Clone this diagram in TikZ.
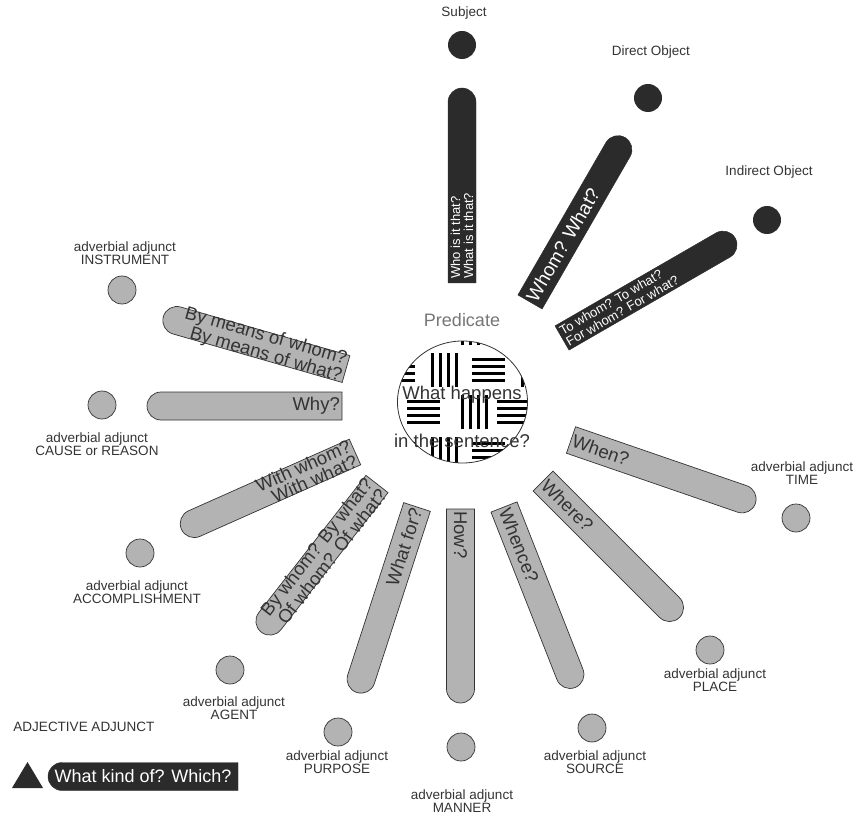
\documentclass[tikz,border=0pt]{standalone}
\usepackage{fontspec}
\setmainfont{Liberation Sans}
\definecolor{darkbar}{HTML}{2B2B2B}
\definecolor{greybar}{HTML}{B3B3B3}
\definecolor{inktext}{HTML}{333333}
\definecolor{predgrey}{HTML}{767676}

% question bar: square end #1, angle #2, length #3, style #4
\newcommand{\askbar}[4]{%
  \begin{scope}[shift={#1}, rotate=#2]
    \filldraw[#4] (0,-14) -- (#3-14,-14) arc(-90:90:14) -- (0,14) -- cycle;
  \end{scope}}

\tikzset{
  darkfill/.style={fill=darkbar, draw=darkbar, line width=0.4pt},
  greyfill/.style={fill=greybar, draw=inktext, line width=0.7pt},
  darkdot/.style={circle, fill=darkbar, inner sep=0pt, minimum size=28pt},
  greydot/.style={circle, fill=greybar, draw=inktext, line width=0.7pt, inner sep=0pt, minimum size=28pt},
  lbl/.style={font=\fontsize{13.5}{13}\selectfont, text=inktext, align=center, inner sep=0pt},
  bigq/.style={font=\fontsize{18.5}{16.5}\selectfont, text=inktext, inner sep=2pt},
  bigw/.style={font=\fontsize{19}{16.5}\selectfont, text=white, inner sep=2pt},
  smallw/.style={font=\fontsize{13}{13}\selectfont, text=white, inner sep=2pt, align=left},
  weave/.style={line width=3pt, black},
}

\begin{document}
\begin{tikzpicture}[x=1pt,y=-1pt]
	\useasboundingbox (0,0) rectangle (859,818);

	% predicate
	\coordinate (pc) at (462.5,402);
	\node[font=\fontsize{18}{18}\selectfont, text=predgrey] (predlbl) at (462,320) {Predicate};
	\begin{scope}
		\clip (pc) ellipse (65 and 61);
		\fill[white] (pc) ellipse (65 and 61);
		\foreach \yc/\vx/\hx in {328/460/497,370/430/472,412/460/497,454/430/472}
			\foreach \k in {-1,0,1}
				\foreach \d in {0,1,2,3}{
					\draw[weave] ({\vx+90*\k+2+8*\d},\yc-17) -- ++(0,34);
					\draw[weave] ({\hx+90*\k},\yc-10.5+7*\d) -- ++(33,0);
				}
	\end{scope}
	\draw[line width=0.8pt, draw=inktext] (pc) ellipse (65 and 61);
	\node[bigq] (happens) at (462,395) {What happens};
	\node[bigq] (sentence) at (462,441) {in the sentence?};

	% bars
	\askbar{(462,283)}{90}{195}{darkfill}
	\askbar{(530,302)}{60}{190}{darkfill}
	\askbar{(562,338)}{30}{200}{darkfill}
	\askbar{(346,369)}{164}{190}{greyfill}
	\askbar{(342,406)}{180}{195}{greyfill}
	\askbar{(355,452)}{204}{190}{greyfill}
	\askbar{(377,484)}{232}{188}{greyfill}
	\askbar{(417,507)}{252}{195}{greyfill}
	\askbar{(460.5,509)}{270}{194}{greyfill}
	\askbar{(504,507)}{291.5}{194}{greyfill}
	\askbar{(543,481)}{315}{193}{greyfill}
	\askbar{(571,440)}{341}{195}{greyfill}

	\node[smallw, rotate=90, anchor=west] (subjq) at (462,281) {Who is it that?\\What is it that?};
	\node[bigw, rotate=60, anchor=west] (dobjq) at (530,302) {Whom? What?};
	\node[smallw, rotate=30, anchor=west] (iobjq) at (562,338) {To whom? To what?\\For whom? For what?};
	\node[bigq, rotate=-16, anchor=east, align=right] (instrq) at (346,369) {By means of whom?\\By means of what?};
	\node[bigq, anchor=east] (causeq) at (342,406) {Why?};
	\node[bigq, rotate=24, anchor=east, align=right] (accompq) at (355,452) {With whom?\\With what?};
	\node[bigq, rotate=52, anchor=east, align=right] (agentq) at (377,484) {By whom? By what?\\Of whom? Of what?};
	\node[bigq, rotate=72, anchor=east] (purposeq) at (417,507) {What for?};
	\node[bigq, rotate=-90, anchor=west] (mannerq) at (460.5,509) {How?};
	\node[bigq, rotate=-68.5, anchor=west] (sourceq) at (504,507) {Whence?};
	\node[bigq, rotate=-45, anchor=west] (placeq) at (543,481) {Where?};
	\node[bigq, rotate=-19, anchor=west] (timeq) at (571,440) {When?};

	% members
	\node[darkdot] (subj) at (462,45) {};
	\node[darkdot] (dobj) at (648,98) {};
	\node[darkdot] (iobj) at (767,220) {};
	\node[greydot] (instr) at (122,290) {};
	\node[greydot] (cause) at (102,405) {};
	\node[greydot] (accomp) at (140,553) {};
	\node[greydot] (agent) at (230,670) {};
	\node[greydot] (purpose) at (338,732) {};
	\node[greydot] (manner) at (461,747) {};
	\node[greydot] (source) at (592,728) {};
	\node[greydot] (place) at (710,650) {};
	\node[greydot] (time) at (796,518) {};

	\node[lbl] (subjlbl) at (464,13) {Subject};
	\node[lbl] (dobjlbl) at (651,52) {Direct Object};
	\node[lbl] (iobjlbl) at (769,172) {Indirect Object};
	\node[lbl] (instrlbl) at (125,253) {adverbial adjunct\\INSTRUMENT};
	\node[lbl] (causelbl) at (97,444) {adverbial adjunct\\CAUSE or REASON};
	\node[lbl] (accomplbl) at (137,592) {adverbial adjunct\\ACCOMPLISHMENT};
	\node[lbl] (agentlbl) at (234,708) {adverbial adjunct\\AGENT};
	\node[lbl] (purposelbl) at (337,762) {adverbial adjunct\\PURPOSE};
	\node[lbl] (mannerlbl) at (462,801) {adverbial adjunct\\MANNER};
	\node[lbl] (sourcelbl) at (595,762) {adverbial adjunct\\SOURCE};
	\node[lbl] (placelbl) at (715,680) {adverbial adjunct\\PLACE};
	\node[lbl] (timelbl) at (802,473) {adverbial adjunct\\TIME};

	% legend
	\node[lbl] (adjlbl) at (84,727) {ADJECTIVE ADJUNCT};
	\fill[darkbar] (12,788) -- (43,788) -- (27.5,762) -- cycle;
	\askbar{(238,776.5)}{180}{190}{darkfill}
	\node[bigw, font=\fontsize{18}{18}\selectfont] (kindq) at (143,776.5) {What kind of? Which?};
\end{tikzpicture}
\end{document}
